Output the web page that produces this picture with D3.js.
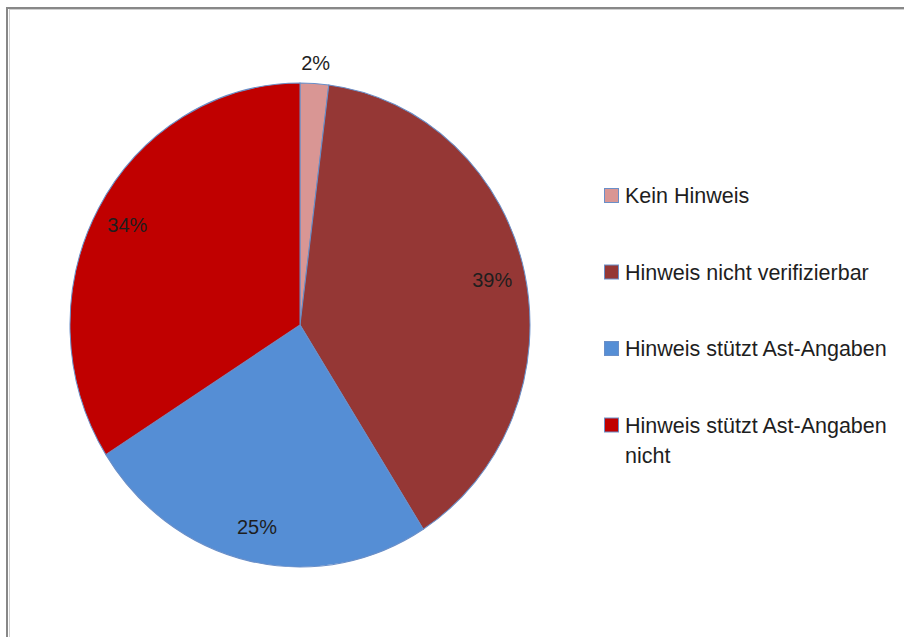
<!DOCTYPE html>
<html lang="de">
    <head>
        <meta charset="utf-8">
        <title>Kreisdiagramm</title>
        <script src="https://d3js.org/d3.v7.min.js"></script>
        <style>
            body {
                margin: 0;
                background-color: white;
                font-family: 'Liberation Sans', Arial, sans-serif;
            }
        </style>
    </head>
    <body>
        <div class="chart"></div>

        <script>
            // chart data
            const categories = ["Kein Hinweis", "Hinweis nicht verifizierbar", "Hinweis stützt Ast-Angaben", "Hinweis stützt Ast-Angaben nicht"];
            const values = [2, 39, 25, 34];
            const colors = ["#D99694", "#953735", "#558ED5", "#C00000"];

            const width = 904;
            const height = 637;
            const cx = 300, cy = 325;
            const radius = 230;
            const stretchY = 1.052;   // the reference pie is slightly taller than wide

            const svg = d3.select(".chart")
                        .append("svg")
                        .attr("width", width)
                        .attr("height", height);

            // chart area frame (runs off the right and bottom edge)
            svg.append("rect")
                .attr("x", 7).attr("y", 8)
                .attr("width", 1200).attr("height", 1200)
                .style("fill", "none")
                .style("stroke", "#888888")
                .style("stroke-width", 2);
            svg.append("rect")
                .attr("x", 9.5).attr("y", 9.5)
                .attr("width", 1200).attr("height", 1200)
                .style("fill", "none")
                .style("stroke", "#d0d0d0")
                .style("stroke-width", 1);

            const data = categories.map((c, i) => ({name: c, value: values[i], color: colors[i]}));
            const total = d3.sum(values);

            const pie = d3.pie()
                        .sort(null)
                        .value(d => d.value);
            const arcs = pie(data);

            const arc = d3.arc()
                        .innerRadius(0)
                        .outerRadius(radius);

            const pieG = svg.append("g")
                        .attr("transform", `translate(${cx},${cy}) scale(1,${stretchY})`);

            pieG.selectAll("path")
                .data(arcs)
                .enter()
                .append("path")
                .attr("d", arc)
                .style("fill", d => d.data.color)
                .style("stroke", "#6a8fc8")
                .style("stroke-width", 1);

            // data labels: inside near the rim, small slices outside
            const insideArc = d3.arc().innerRadius(197).outerRadius(197);
            const outsideArc = d3.arc().innerRadius(250).outerRadius(250);
            const fmt = d3.format(".0%");

            svg.append("g")
                .selectAll("text")
                .data(arcs)
                .enter()
                .append("text")
                .attr("x", d => cx + (d.data.value / total < 0.05 ? outsideArc : insideArc).centroid(d)[0])
                .attr("y", d => cy + (d.data.value / total < 0.05 ? outsideArc : insideArc).centroid(d)[1] * stretchY)
                .attr("text-anchor", "middle")
                .attr("dominant-baseline", "central")
                .style("font-size", "20px")
                .style("fill", "#1e1e1e")
                .text(d => fmt(d.data.value / total));

            // legend
            const legendX = 604, legendY = 195.5, rowStep = 76.5, lineStep = 30, maxText = 272;
            const legend = svg.append("g");
            data.forEach((d, i) => {
                const y = legendY + i * rowStep;
                legend.append("rect")
                    .attr("x", legendX + 0.5).attr("y", y - 7)
                    .attr("width", 14).attr("height", 14)
                    .style("fill", d.color)
                    .style("stroke", "#6a8fc8")
                    .style("stroke-width", 1);

                const text = legend.append("text")
                    .attr("x", legendX + 21)
                    .attr("y", y + 7.5)
                    .style("font-size", "21.5px")
                    .style("fill", "#1e1e1e");

                // simple word wrap
                const words = d.name.split(" ");
                let line = [];
                let lineNo = 0;
                let tspan = text.append("tspan").attr("x", legendX + 21).attr("y", y + 7.5);
                words.forEach(w => {
                    line.push(w);
                    tspan.text(line.join(" "));
                    if (tspan.node().getComputedTextLength() > maxText && line.length > 1) {
                        line.pop();
                        tspan.text(line.join(" "));
                        line = [w];
                        lineNo++;
                        tspan = text.append("tspan")
                            .attr("x", legendX + 21)
                            .attr("y", y + 7.5 + lineNo * lineStep)
                            .text(w);
                    }
                });
            });
        </script>
    </body>
</html>
